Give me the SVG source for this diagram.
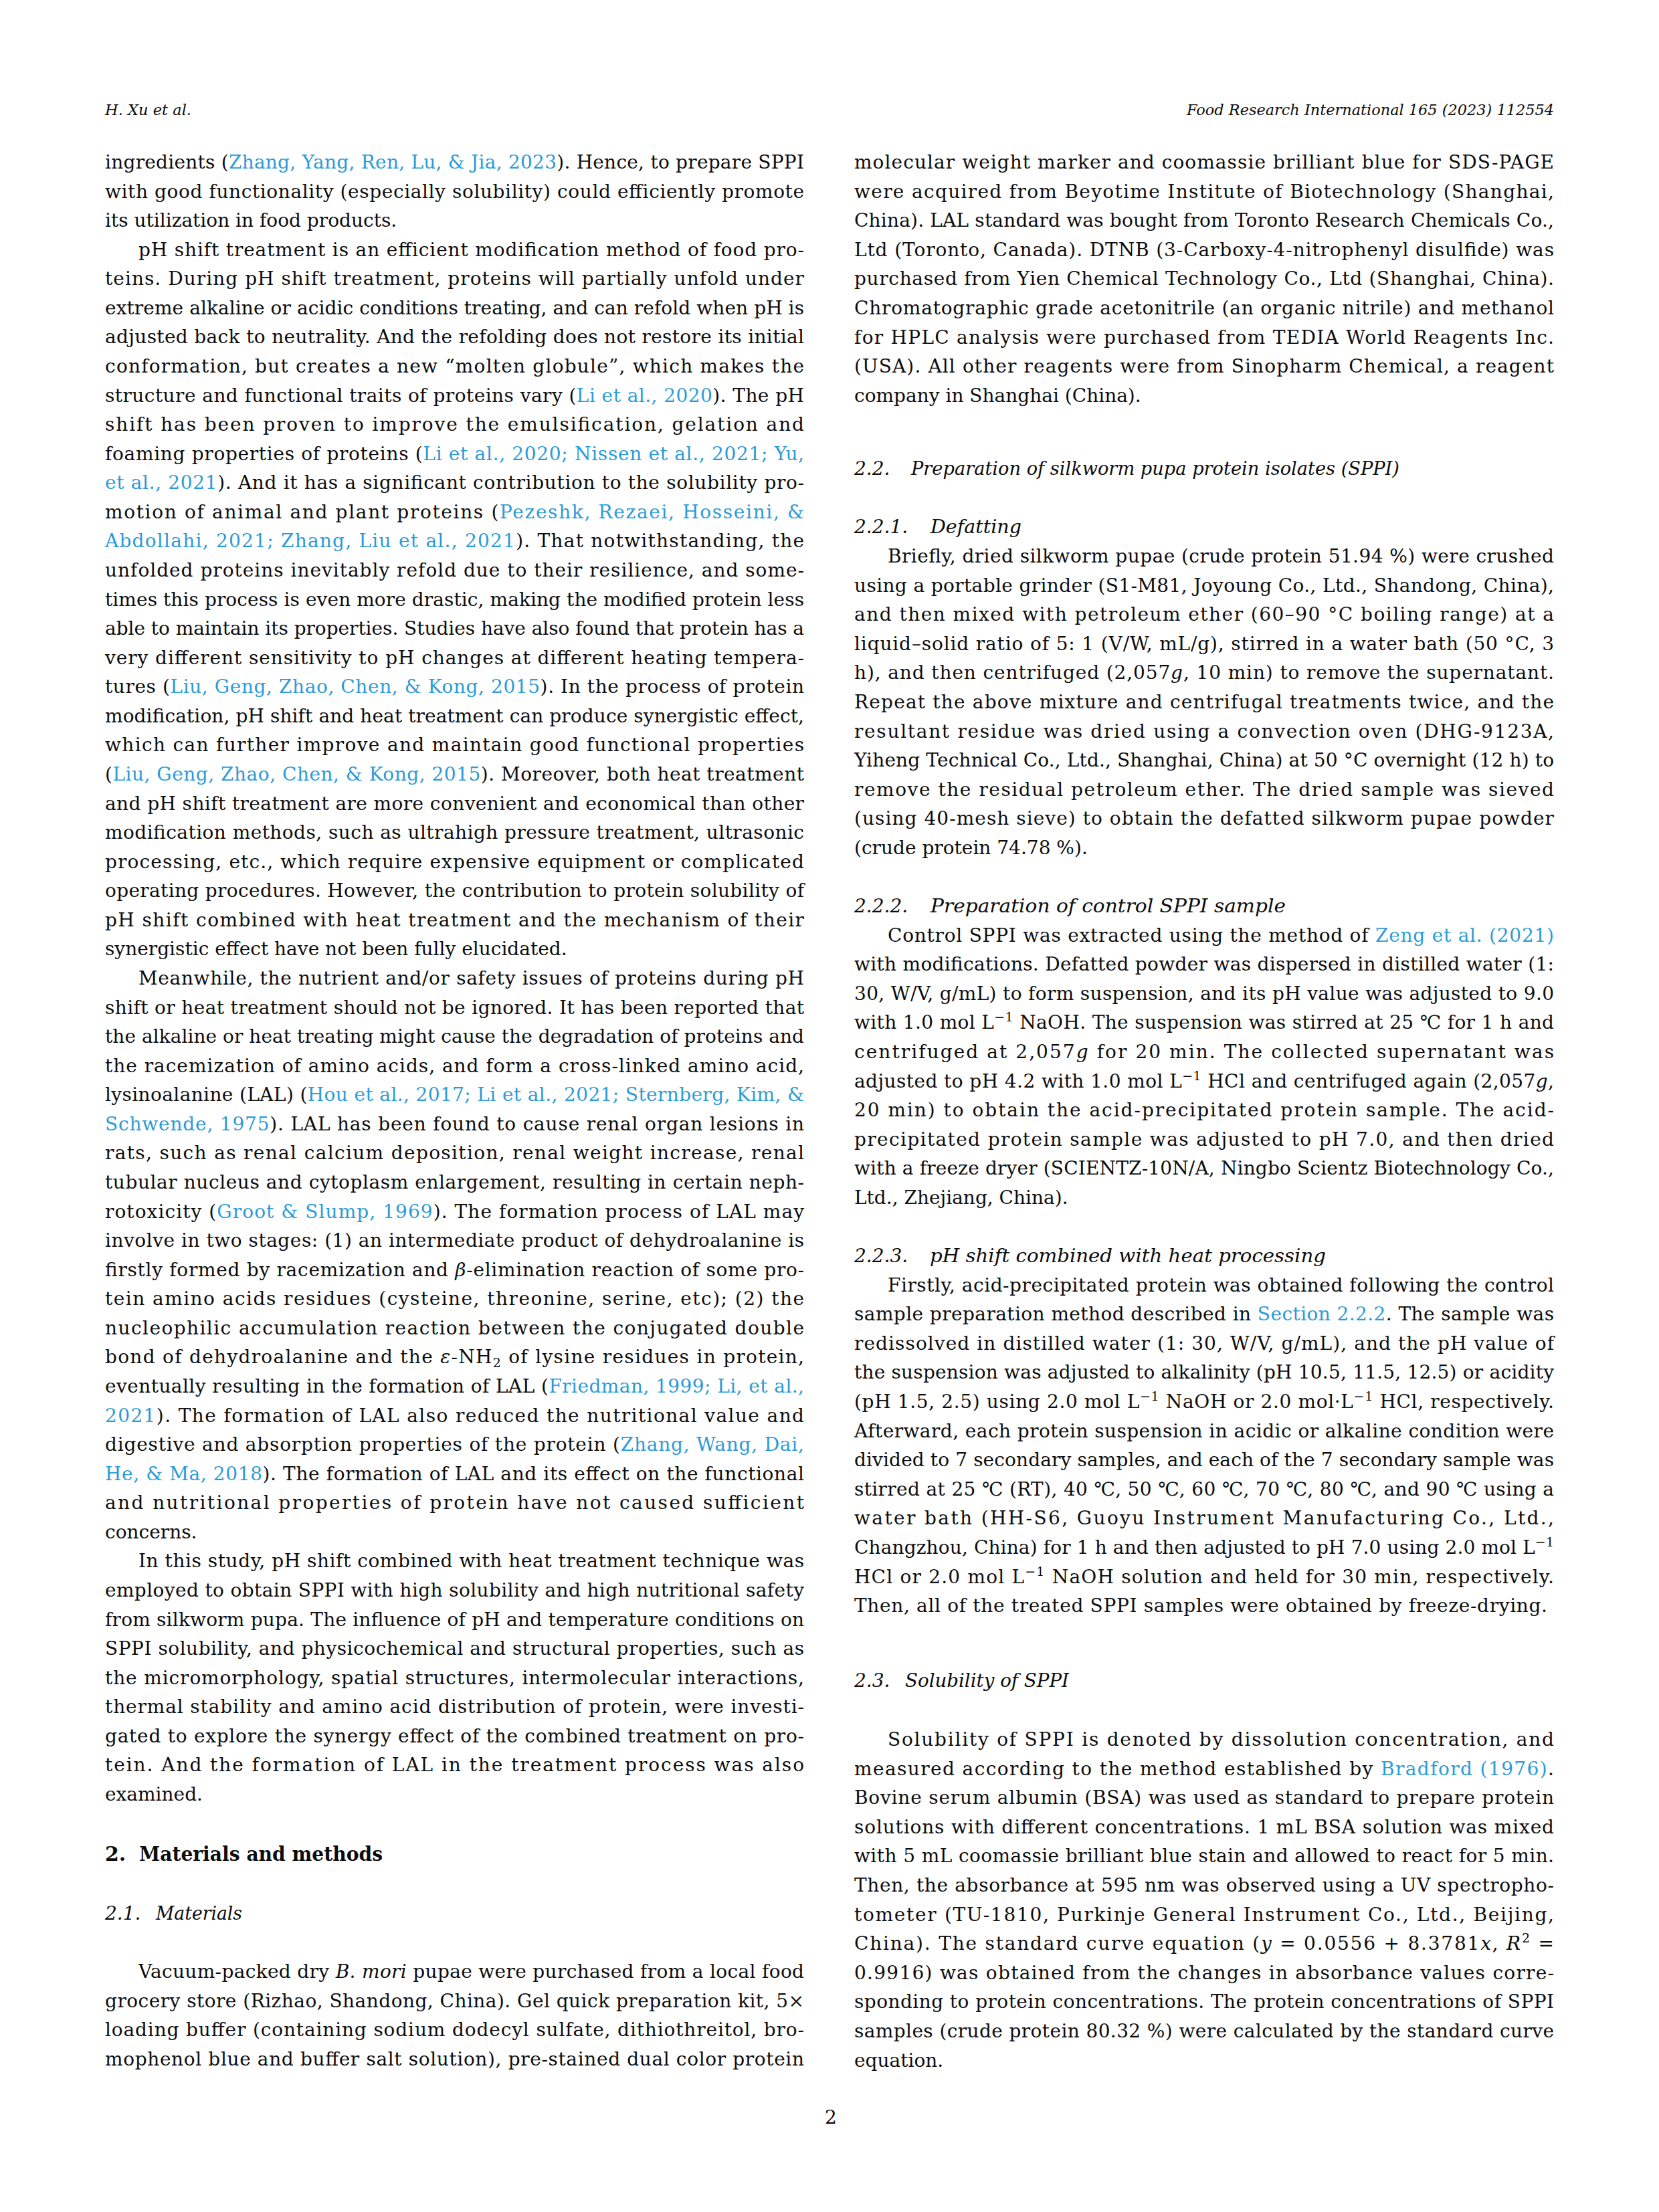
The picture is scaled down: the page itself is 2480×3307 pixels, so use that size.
<svg xmlns="http://www.w3.org/2000/svg" width="2480" height="3307" viewBox="0 0 2480 3307">
<style>
text{font-family:"DejaVu Serif","Liberation Serif",serif;font-size:28px;fill:#0d0d0d}
.c{fill:#2b9bd8}
.i{font-style:italic}
.hb{font-weight:bold;font-size:30px}
.hd{font-style:italic;font-size:22px}
.s{font-size:19px}
</style>
<rect width="2480" height="3307" fill="#ffffff"/>
<g id="header">
<text class="hd" x="157" y="172" textLength="129" lengthAdjust="spacingAndGlyphs">H. Xu et al.</text>
<text class="hd" x="1774" y="172" textLength="549" lengthAdjust="spacingAndGlyphs">Food Research International 165 (2023) 112554</text>
</g>
<g id="left-column">
<text x="157" y="252" textLength="1045" lengthAdjust="spacing">ingredients (<tspan class="c">Zhang, Yang, Ren, Lu, &amp; Jia, 2023</tspan>). Hence, to prepare SPPI</text>
<text x="157" y="295.6" textLength="1045" lengthAdjust="spacing">with good functionality (especially solubility) could efficiently promote</text>
<text x="157" y="339.1">its utilization in food products.</text>
<text x="207" y="382.7" textLength="995" lengthAdjust="spacing">pH shift treatment is an efficient modification method of food pro-</text>
<text x="157" y="426.3" textLength="1045" lengthAdjust="spacing">teins. During pH shift treatment, proteins will partially unfold under</text>
<text x="157" y="469.9" textLength="1045" lengthAdjust="spacing">extreme alkaline or acidic conditions treating, and can refold when pH is</text>
<text x="157" y="513.4" textLength="1045" lengthAdjust="spacing">adjusted back to neutrality. And the refolding does not restore its initial</text>
<text x="157" y="557" textLength="1045" lengthAdjust="spacing">conformation, but creates a new “molten globule”, which makes the</text>
<text x="157" y="600.6" textLength="1045" lengthAdjust="spacing">structure and functional traits of proteins vary (<tspan class="c">Li et al., 2020</tspan>). The pH</text>
<text x="157" y="644.1" textLength="1045" lengthAdjust="spacing">shift has been proven to improve the emulsification, gelation and</text>
<text x="157" y="687.7" textLength="1045" lengthAdjust="spacing">foaming properties of proteins (<tspan class="c">Li et al., 2020; Nissen et al., 2021; Yu,</tspan></text>
<text x="157" y="731.3" textLength="1045" lengthAdjust="spacing"><tspan class="c">et al., 2021</tspan>). And it has a significant contribution to the solubility pro-</text>
<text x="157" y="774.8" textLength="1045" lengthAdjust="spacing">motion of animal and plant proteins (<tspan class="c">Pezeshk, Rezaei, Hosseini, &amp;</tspan></text>
<text x="157" y="818.4" textLength="1045" lengthAdjust="spacing"><tspan class="c">Abdollahi, 2021; Zhang, Liu et al., 2021</tspan>). That notwithstanding, the</text>
<text x="157" y="862" textLength="1045" lengthAdjust="spacing">unfolded proteins inevitably refold due to their resilience, and some-</text>
<text x="157" y="905.6" textLength="1045" lengthAdjust="spacing">times this process is even more drastic, making the modified protein less</text>
<text x="157" y="949.1" textLength="1045" lengthAdjust="spacing">able to maintain its properties. Studies have also found that protein has a</text>
<text x="157" y="992.7" textLength="1045" lengthAdjust="spacing">very different sensitivity to pH changes at different heating tempera-</text>
<text x="157" y="1036.3" textLength="1045" lengthAdjust="spacing">tures (<tspan class="c">Liu, Geng, Zhao, Chen, &amp; Kong, 2015</tspan>). In the process of protein</text>
<text x="157" y="1079.8" textLength="1045" lengthAdjust="spacing">modification, pH shift and heat treatment can produce synergistic effect,</text>
<text x="157" y="1123.4" textLength="1045" lengthAdjust="spacing">which can further improve and maintain good functional properties</text>
<text x="157" y="1167" textLength="1045" lengthAdjust="spacing">(<tspan class="c">Liu, Geng, Zhao, Chen, &amp; Kong, 2015</tspan>). Moreover, both heat treatment</text>
<text x="157" y="1210.5" textLength="1045" lengthAdjust="spacing">and pH shift treatment are more convenient and economical than other</text>
<text x="157" y="1254.1" textLength="1045" lengthAdjust="spacing">modification methods, such as ultrahigh pressure treatment, ultrasonic</text>
<text x="157" y="1297.7" textLength="1045" lengthAdjust="spacing">processing, etc., which require expensive equipment or complicated</text>
<text x="157" y="1341.3" textLength="1045" lengthAdjust="spacing">operating procedures. However, the contribution to protein solubility of</text>
<text x="157" y="1384.8" textLength="1045" lengthAdjust="spacing">pH shift combined with heat treatment and the mechanism of their</text>
<text x="157" y="1428.4">synergistic effect have not been fully elucidated.</text>
<text x="207" y="1472" textLength="995" lengthAdjust="spacing">Meanwhile, the nutrient and/or safety issues of proteins during pH</text>
<text x="157" y="1515.5" textLength="1045" lengthAdjust="spacing">shift or heat treatment should not be ignored. It has been reported that</text>
<text x="157" y="1559.1" textLength="1045" lengthAdjust="spacing">the alkaline or heat treating might cause the degradation of proteins and</text>
<text x="157" y="1602.7" textLength="1045" lengthAdjust="spacing">the racemization of amino acids, and form a cross-linked amino acid,</text>
<text x="157" y="1646.2" textLength="1045" lengthAdjust="spacing">lysinoalanine (LAL) (<tspan class="c">Hou et al., 2017; Li et al., 2021; Sternberg, Kim, &amp;</tspan></text>
<text x="157" y="1689.8" textLength="1045" lengthAdjust="spacing"><tspan class="c">Schwende, 1975</tspan>). LAL has been found to cause renal organ lesions in</text>
<text x="157" y="1733.4" textLength="1045" lengthAdjust="spacing">rats, such as renal calcium deposition, renal weight increase, renal</text>
<text x="157" y="1777" textLength="1045" lengthAdjust="spacing">tubular nucleus and cytoplasm enlargement, resulting in certain neph-</text>
<text x="157" y="1820.5" textLength="1045" lengthAdjust="spacing">rotoxicity (<tspan class="c">Groot &amp; Slump, 1969</tspan>). The formation process of LAL may</text>
<text x="157" y="1864.1" textLength="1045" lengthAdjust="spacing">involve in two stages: (1) an intermediate product of dehydroalanine is</text>
<text x="157" y="1907.7" textLength="1045" lengthAdjust="spacing">firstly formed by racemization and <tspan class="i">β</tspan>-elimination reaction of some pro-</text>
<text x="157" y="1951.2" textLength="1045" lengthAdjust="spacing">tein amino acids residues (cysteine, threonine, serine, etc); (2) the</text>
<text x="157" y="1994.8" textLength="1045" lengthAdjust="spacing">nucleophilic accumulation reaction between the conjugated double</text>
<text x="157" y="2038.4" textLength="1045" lengthAdjust="spacing">bond of dehydroalanine and the <tspan class="i">ε</tspan>-NH<tspan class="s" dy="6">2</tspan><tspan dy="-6"> of lysine residues in protein,</tspan></text>
<text x="157" y="2081.9" textLength="1045" lengthAdjust="spacing">eventually resulting in the formation of LAL (<tspan class="c">Friedman, 1999; Li, et al.,</tspan></text>
<text x="157" y="2125.5" textLength="1045" lengthAdjust="spacing"><tspan class="c">2021</tspan>). The formation of LAL also reduced the nutritional value and</text>
<text x="157" y="2169.1" textLength="1045" lengthAdjust="spacing">digestive and absorption properties of the protein (<tspan class="c">Zhang, Wang, Dai,</tspan></text>
<text x="157" y="2212.7" textLength="1045" lengthAdjust="spacing"><tspan class="c">He, &amp; Ma, 2018</tspan>). The formation of LAL and its effect on the functional</text>
<text x="157" y="2256.2" textLength="1045" lengthAdjust="spacing">and nutritional properties of protein have not caused sufficient</text>
<text x="157" y="2299.8">concerns.</text>
<text x="207" y="2343.4" textLength="995" lengthAdjust="spacing">In this study, pH shift combined with heat treatment technique was</text>
<text x="157" y="2386.9" textLength="1045" lengthAdjust="spacing">employed to obtain SPPI with high solubility and high nutritional safety</text>
<text x="157" y="2430.5" textLength="1045" lengthAdjust="spacing">from silkworm pupa. The influence of pH and temperature conditions on</text>
<text x="157" y="2474.1" textLength="1045" lengthAdjust="spacing">SPPI solubility, and physicochemical and structural properties, such as</text>
<text x="157" y="2517.6" textLength="1045" lengthAdjust="spacing">the micromorphology, spatial structures, intermolecular interactions,</text>
<text x="157" y="2561.2" textLength="1045" lengthAdjust="spacing">thermal stability and amino acid distribution of protein, were investi-</text>
<text x="157" y="2604.8" textLength="1045" lengthAdjust="spacing">gated to explore the synergy effect of the combined treatment on pro-</text>
<text x="157" y="2648.4" textLength="1045" lengthAdjust="spacing">tein. And the formation of LAL in the treatment process was also</text>
<text x="157" y="2691.9">examined.</text>
<text class="hb" x="157" y="2782">2.</text>
<text class="hb" x="208" y="2782" textLength="364" lengthAdjust="spacingAndGlyphs">Materials and methods</text>
<text class="i" x="157" y="2870">2.1.</text>
<text class="i" x="233" y="2870" textLength="129" lengthAdjust="spacingAndGlyphs">Materials</text>
<text x="207" y="2957" textLength="995" lengthAdjust="spacing">Vacuum-packed dry <tspan class="i">B. mori</tspan> pupae were purchased from a local food</text>
<text x="157" y="3000.6" textLength="1045" lengthAdjust="spacing">grocery store (Rizhao, Shandong, China). Gel quick preparation kit, 5×</text>
<text x="157" y="3044.1" textLength="1045" lengthAdjust="spacing">loading buffer (containing sodium dodecyl sulfate, dithiothreitol, bro-</text>
<text x="157" y="3087.7" textLength="1045" lengthAdjust="spacing">mophenol blue and buffer salt solution), pre-stained dual color protein</text>
</g>
<g id="right-column">
<text x="1277" y="252" textLength="1046" lengthAdjust="spacing">molecular weight marker and coomassie brilliant blue for SDS-PAGE</text>
<text x="1277" y="295.6" textLength="1046" lengthAdjust="spacing">were acquired from Beyotime Institute of Biotechnology (Shanghai,</text>
<text x="1277" y="339.2" textLength="1046" lengthAdjust="spacing">China). LAL standard was bought from Toronto Research Chemicals Co.,</text>
<text x="1277" y="382.8" textLength="1046" lengthAdjust="spacing">Ltd (Toronto, Canada). DTNB (3-Carboxy-4-nitrophenyl disulfide) was</text>
<text x="1277" y="426.4" textLength="1046" lengthAdjust="spacing">purchased from Yien Chemical Technology Co., Ltd (Shanghai, China).</text>
<text x="1277" y="470" textLength="1046" lengthAdjust="spacing">Chromatographic grade acetonitrile (an organic nitrile) and methanol</text>
<text x="1277" y="513.6" textLength="1046" lengthAdjust="spacing">for HPLC analysis were purchased from TEDIA World Reagents Inc.</text>
<text x="1277" y="557.2" textLength="1046" lengthAdjust="spacing">(USA). All other reagents were from Sinopharm Chemical, a reagent</text>
<text x="1277" y="600.8">company in Shanghai (China).</text>
<text class="i" x="1277" y="710">2.2.</text>
<text class="i" x="1362" y="710" textLength="730" lengthAdjust="spacingAndGlyphs">Preparation of silkworm pupa protein isolates (SPPI)</text>
<text class="i" x="1277" y="797">2.2.1.</text>
<text class="i" x="1391" y="797" textLength="136" lengthAdjust="spacingAndGlyphs">Defatting</text>
<text x="1327" y="841" textLength="996" lengthAdjust="spacing">Briefly, dried silkworm pupae (crude protein 51.94 %) were crushed</text>
<text x="1277" y="884.6" textLength="1046" lengthAdjust="spacing">using a portable grinder (S1-M81, Joyoung Co., Ltd., Shandong, China),</text>
<text x="1277" y="928.2" textLength="1046" lengthAdjust="spacing">and then mixed with petroleum ether (60–90 °C boiling range) at a</text>
<text x="1277" y="971.8" textLength="1046" lengthAdjust="spacing">liquid–solid ratio of 5: 1 (V/W, mL/g), stirred in a water bath (50 °C, 3</text>
<text x="1277" y="1015.4" textLength="1046" lengthAdjust="spacing">h), and then centrifuged (2,057<tspan class="i">g</tspan>, 10 min) to remove the supernatant.</text>
<text x="1277" y="1059" textLength="1046" lengthAdjust="spacing">Repeat the above mixture and centrifugal treatments twice, and the</text>
<text x="1277" y="1102.6" textLength="1046" lengthAdjust="spacing">resultant residue was dried using a convection oven (DHG-9123A,</text>
<text x="1277" y="1146.2" textLength="1046" lengthAdjust="spacing">Yiheng Technical Co., Ltd., Shanghai, China) at 50 °C overnight (12 h) to</text>
<text x="1277" y="1189.8" textLength="1046" lengthAdjust="spacing">remove the residual petroleum ether. The dried sample was sieved</text>
<text x="1277" y="1233.4" textLength="1046" lengthAdjust="spacing">(using 40-mesh sieve) to obtain the defatted silkworm pupae powder</text>
<text x="1277" y="1277">(crude protein 74.78 %).</text>
<text class="i" x="1277" y="1364">2.2.2.</text>
<text class="i" x="1391" y="1364" textLength="531" lengthAdjust="spacingAndGlyphs">Preparation of control SPPI sample</text>
<text x="1327" y="1407.6" textLength="996" lengthAdjust="spacing">Control SPPI was extracted using the method of <tspan class="c">Zeng et al. (2021)</tspan></text>
<text x="1277" y="1451.2" textLength="1046" lengthAdjust="spacing">with modifications. Defatted powder was dispersed in distilled water (1:</text>
<text x="1277" y="1494.8" textLength="1046" lengthAdjust="spacing">30, W/V, g/mL) to form suspension, and its pH value was adjusted to 9.0</text>
<text x="1277" y="1538.4" textLength="1046" lengthAdjust="spacing">with 1.0 mol L<tspan class="s" dy="-11">−1</tspan><tspan dy="11"> NaOH. The suspension was stirred at 25 ℃ for 1 h and</tspan></text>
<text x="1277" y="1582" textLength="1046" lengthAdjust="spacing">centrifuged at 2,057<tspan class="i">g</tspan> for 20 min. The collected supernatant was</text>
<text x="1277" y="1625.6" textLength="1046" lengthAdjust="spacing">adjusted to pH 4.2 with 1.0 mol L<tspan class="s" dy="-11">−1</tspan><tspan dy="11"> HCl and centrifuged again (2,057</tspan><tspan class="i">g</tspan>,</text>
<text x="1277" y="1669.2" textLength="1046" lengthAdjust="spacing">20 min) to obtain the acid-precipitated protein sample. The acid-</text>
<text x="1277" y="1712.8" textLength="1046" lengthAdjust="spacing">precipitated protein sample was adjusted to pH 7.0, and then dried</text>
<text x="1277" y="1756.4" textLength="1046" lengthAdjust="spacing">with a freeze dryer (SCIENTZ-10N/A, Ningbo Scientz Biotechnology Co.,</text>
<text x="1277" y="1800">Ltd., Zhejiang, China).</text>
<text class="i" x="1277" y="1887">2.2.3.</text>
<text class="i" x="1390" y="1887" textLength="592" lengthAdjust="spacingAndGlyphs">pH shift combined with heat processing</text>
<text x="1327" y="1930.6" textLength="996" lengthAdjust="spacing">Firstly, acid-precipitated protein was obtained following the control</text>
<text x="1277" y="1974.2" textLength="1046" lengthAdjust="spacing">sample preparation method described in <tspan class="c">Section 2.2.2</tspan>. The sample was</text>
<text x="1277" y="2017.8" textLength="1046" lengthAdjust="spacing">redissolved in distilled water (1: 30, W/V, g/mL), and the pH value of</text>
<text x="1277" y="2061.4" textLength="1046" lengthAdjust="spacing">the suspension was adjusted to alkalinity (pH 10.5, 11.5, 12.5) or acidity</text>
<text x="1277" y="2105" textLength="1046" lengthAdjust="spacing">(pH 1.5, 2.5) using 2.0 mol L<tspan class="s" dy="-11">−1</tspan><tspan dy="11"> NaOH or 2.0 mol·L</tspan><tspan class="s" dy="-11">−1</tspan><tspan dy="11"> HCl, respectively.</tspan></text>
<text x="1277" y="2148.6" textLength="1046" lengthAdjust="spacing">Afterward, each protein suspension in acidic or alkaline condition were</text>
<text x="1277" y="2192.2" textLength="1046" lengthAdjust="spacing">divided to 7 secondary samples, and each of the 7 secondary sample was</text>
<text x="1277" y="2235.8" textLength="1046" lengthAdjust="spacing">stirred at 25 ℃ (RT), 40 ℃, 50 ℃, 60 ℃, 70 ℃, 80 ℃, and 90 ℃ using a</text>
<text x="1277" y="2279.4" textLength="1046" lengthAdjust="spacing">water bath (HH-S6, Guoyu Instrument Manufacturing Co., Ltd.,</text>
<text x="1277" y="2323" textLength="1046" lengthAdjust="spacing">Changzhou, China) for 1 h and then adjusted to pH 7.0 using 2.0 mol L<tspan class="s" dy="-11">−1</tspan></text>
<text x="1277" y="2366.6" textLength="1046" lengthAdjust="spacing">HCl or 2.0 mol L<tspan class="s" dy="-11">−1</tspan><tspan dy="11"> NaOH solution and held for 30 min, respectively.</tspan></text>
<text x="1277" y="2410.2" textLength="1036" lengthAdjust="spacing">Then, all of the treated SPPI samples were obtained by freeze-drying.</text>
<text class="i" x="1277" y="2522">2.3.</text>
<text class="i" x="1353" y="2522" textLength="245" lengthAdjust="spacingAndGlyphs">Solubility of SPPI</text>
<text x="1327" y="2610" textLength="996" lengthAdjust="spacing">Solubility of SPPI is denoted by dissolution concentration, and</text>
<text x="1277" y="2653.6" textLength="1046" lengthAdjust="spacing">measured according to the method established by <tspan class="c">Bradford (1976)</tspan>.</text>
<text x="1277" y="2697.2" textLength="1046" lengthAdjust="spacing">Bovine serum albumin (BSA) was used as standard to prepare protein</text>
<text x="1277" y="2740.8" textLength="1046" lengthAdjust="spacing">solutions with different concentrations. 1 mL BSA solution was mixed</text>
<text x="1277" y="2784.4" textLength="1046" lengthAdjust="spacing">with 5 mL coomassie brilliant blue stain and allowed to react for 5 min.</text>
<text x="1277" y="2828" textLength="1046" lengthAdjust="spacing">Then, the absorbance at 595 nm was observed using a UV spectropho-</text>
<text x="1277" y="2871.6" textLength="1046" lengthAdjust="spacing">tometer (TU-1810, Purkinje General Instrument Co., Ltd., Beijing,</text>
<text x="1277" y="2915.2" textLength="1046" lengthAdjust="spacing">China). The standard curve equation (<tspan class="i">y</tspan> = 0.0556 + 8.3781<tspan class="i">x</tspan>, <tspan class="i">R</tspan><tspan class="s" dy="-11">2</tspan><tspan dy="11"> =</tspan></text>
<text x="1277" y="2958.8" textLength="1046" lengthAdjust="spacing">0.9916) was obtained from the changes in absorbance values corre-</text>
<text x="1277" y="3002.4" textLength="1046" lengthAdjust="spacing">sponding to protein concentrations. The protein concentrations of SPPI</text>
<text x="1277" y="3046" textLength="1046" lengthAdjust="spacing">samples (crude protein 80.32 %) were calculated by the standard curve</text>
<text x="1277" y="3089.6">equation.</text>
</g>
<g id="footer">
<text x="1242" y="3175" text-anchor="middle">2</text>
</g>
</svg>
